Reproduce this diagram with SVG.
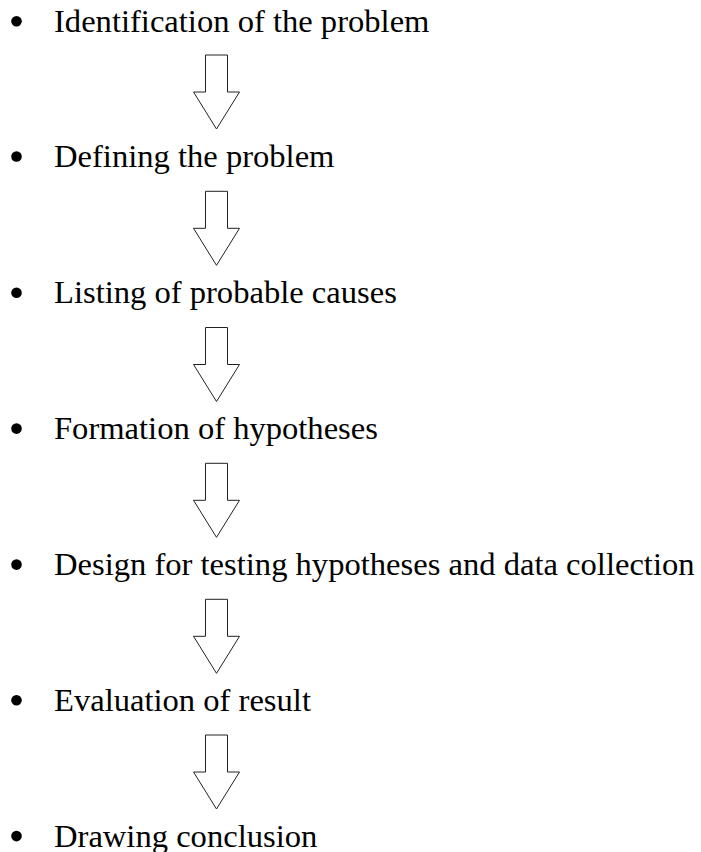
<svg xmlns="http://www.w3.org/2000/svg" width="701" height="852" viewBox="0 0 701 852">
<defs>
<style>
.b{fill:#000}
.a{fill:#fff;stroke:#222;stroke-width:1}
</style>
<path id="arr" d="M205.5,0 H227.5 V37 H239.5 L216.5,74 L193.5,37 H205.5 Z"/>
</defs>
<rect width="701" height="852" fill="#fff"/>
<g font-family="'Liberation Serif', 'Times New Roman', Times, serif" font-size="32.6" fill="#000">
<g id="step1"><circle class="b" cx="16.5" cy="21.3" r="5.3"/><text x="54" y="31.7">Identification of the problem</text></g>
<g id="step2"><circle class="b" cx="16.5" cy="156.5" r="5.3"/><text x="54" y="166.9">Defining the problem</text></g>
<g id="step3"><circle class="b" cx="16.5" cy="292.8" r="5.3"/><text x="54" y="303.2">Listing of probable causes</text></g>
<g id="step4"><circle class="b" cx="16.5" cy="428.6" r="5.3"/><text x="54" y="439">Formation of hypotheses</text></g>
<g id="step5"><circle class="b" cx="16.5" cy="564.6" r="5.3"/><text x="54" y="575">Design for testing hypotheses and data collection</text></g>
<g id="step6"><circle class="b" cx="16.5" cy="700.3" r="5.3"/><text x="54" y="710.7">Evaluation of result</text></g>
<g id="step7"><circle class="b" cx="16.5" cy="836.1" r="5.3"/><text x="54" y="846.5">Drawing conclusion</text></g>
</g>
<g id="connectors">
<use href="#arr" class="a" transform="translate(0,55)"/>
<use href="#arr" class="a" transform="translate(0,191.3)"/>
<use href="#arr" class="a" transform="translate(0,327.5)"/>
<use href="#arr" class="a" transform="translate(0,463.3)"/>
<use href="#arr" class="a" transform="translate(0,599.3)"/>
<use href="#arr" class="a" transform="translate(0,735)"/>
</g>
</svg>
